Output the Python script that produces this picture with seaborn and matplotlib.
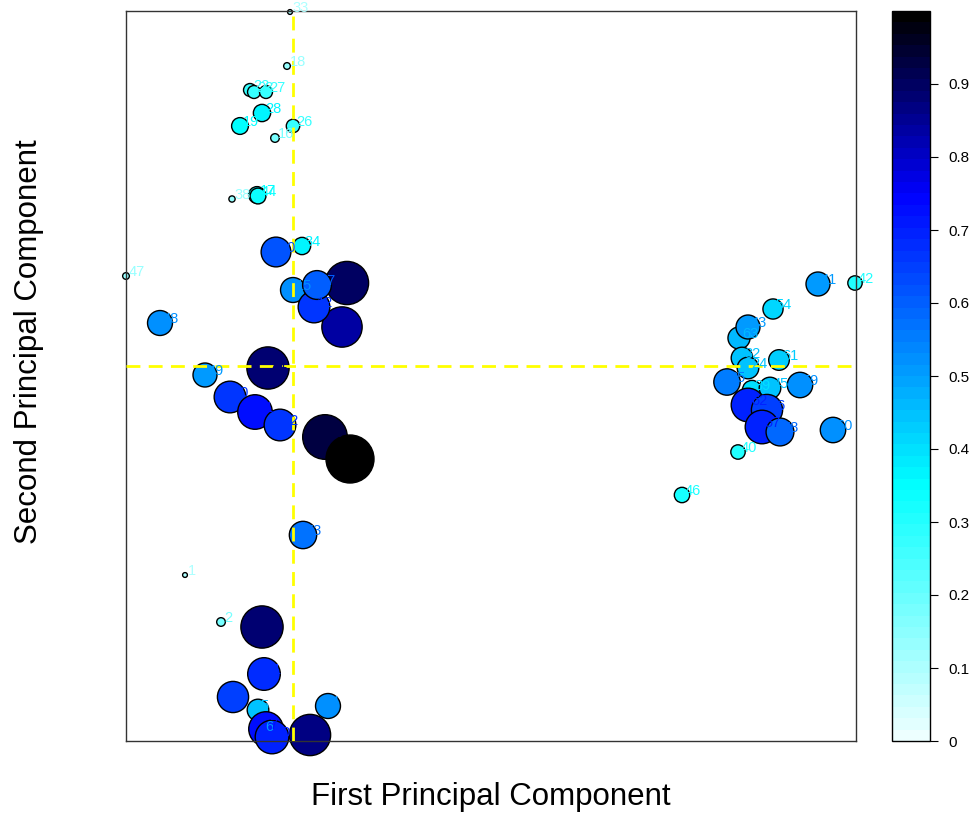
import numpy as np
import pandas as pd
import matplotlib
matplotlib.use("Agg")
import matplotlib.pyplot as plt
from matplotlib.colors import LinearSegmentedColormap, Normalize
from matplotlib.cm import ScalarMappable
import seaborn as sns

# ---- data ----
labels = ["1", "2", "3", "4", "5", "6", "7", "14", "11", "10", "13",
          "47", "48", "49", "50", "51", "52", "53",
          "21", "30", "31", "36", "29", "20", "34", "15", "12", "37",
          "33", "18", "22", "23", "27", "28", "19", "26", "16", "38", "17", "44",
          "41", "42", "54", "63", "43", "32", "24", "61", "35", "59", "39", "45",
          "62", "56", "57", "58", "60", "40", "46"]
pc1 = [59, 95, 107, 202, 132, 136, 140, 136, 138, 146, 184,
       0, 34, 79, 104, 129, 154, 177,
       142, 199, 224, 221, 216, 150, 176, 167, 188, 191,
       164, 161, 124, 128, 140, 136, 114, 167, 149, 106, 131, 132,
       692, 729, 647, 613, 622, 616, 622, 653, 601, 674, 626, 644,
       622, 641, 636, 654, 707, 612, 556]
pc2 = [166, 119, 44, 35, 31, 10, 12, 114, 67, 4, 6,
       465, 418, 366, 344, 329, 316, 206,
       373, 304, 282, 458, 414, 489, 495, 451, 434, 456,
       729, 675, 651, 649, 649, 628, 615, 615, 603, 542, 546, 545,
       457, 458, 432, 403, 414, 383, 373, 381, 359, 356, 351, 353,
       336, 331, 314, 309, 311, 289, 246]
score = [0.10, 0.18, 0.65, 0.52, 0.45, 0.50, 0.72, 0.88, 0.68, 0.70, 0.86,
         0.14, 0.52, 0.50, 0.66, 0.72, 0.66, 0.57,
         0.88, 0.93, 1.00, 0.90, 0.84, 0.62, 0.36, 0.52, 0.66, 0.60,
         0.10, 0.14, 0.27, 0.27, 0.27, 0.36, 0.35, 0.28, 0.18, 0.13, 0.35, 0.33,
         0.50, 0.30, 0.42, 0.46, 0.50, 0.45, 0.45, 0.43, 0.55, 0.53, 0.40, 0.45,
         0.70, 0.65, 0.70, 0.58, 0.53, 0.30, 0.32]
cross_x = 167
cross_y = 375
cbar_ticks = [0, 0.1, 0.2, 0.3, 0.4, 0.5, 0.6, 0.7, 0.8, 0.9]
cbar_ticklabels = ["0", "0.1", "0.2", "0.3", "0.4", "0.5", "0.6", "0.7", "0.8", "0.9"]

df = pd.DataFrame({"label": labels, "pc1": pc1, "pc2": pc2, "score": score})
df["area"] = df["score"] ** 2

sns.set_style("white")
plt.rcParams["font.family"] = ["Liberation Sans", "DejaVu Sans"]

cmap = LinearSegmentedColormap.from_list(
    "cyanblue",
    [(0.0, (0.93, 1.0, 1.0)), (0.35, (0.0, 1.0, 1.0)),
     (0.75, (0.0, 0.0, 1.0)), (1.0, (0.0, 0.0, 0.0))], N=64)
norm = Normalize(0, 1)

fig = plt.figure(figsize=(9.76, 8.13), dpi=100)
ax = fig.add_axes([126 / 976, 72 / 813, 730 / 976, 730 / 813])
cax = fig.add_axes([892 / 976, 72 / 813, 38 / 976, 730 / 813])

sns.scatterplot(data=df, x="pc1", y="pc2", hue="score", size="area",
                palette=cmap, hue_norm=norm, sizes=(0, 1194), size_norm=(0, 1),
                edgecolor="black", linewidth=1.0, legend=False, ax=ax,
                clip_on=False, zorder=2)

ax.set_xlim(0, 730)
ax.set_ylim(0, 730)
ax.set_xticks([])
ax.set_yticks([])
for sp in ax.spines.values():
    sp.set_color("#333333")
    sp.set_linewidth(1.0)

ax.axvline(cross_x, color="#ffff00", lw=2.0, ls=(0, (5, 3)), zorder=3)
ax.axhline(cross_y, color="#ffff00", lw=2.0, ls=(0, (5, 3)), zorder=3)

for lbl, x, y, s in zip(labels, pc1, pc2, score):
    ax.annotate(lbl, (x, y), xytext=(2, 3), textcoords="offset points",
                color=cmap(norm(s)), fontsize=10.5, ha="left", va="center",
                annotation_clip=False, zorder=4)

ax.set_xlabel("First Principal Component", fontsize=22.5, color="black")
ax.set_ylabel("Second Principal Component", fontsize=22.5, color="black")
ax.xaxis.set_label_coords(0.5, -0.056)
ax.yaxis.set_label_coords(-0.113, 0.547)

cb = fig.colorbar(ScalarMappable(norm=norm, cmap=cmap), cax=cax)
cb.set_ticks(cbar_ticks)
cb.set_ticklabels(cbar_ticklabels)
cb.ax.tick_params(labelsize=11, length=5.5, width=0.8, pad=8, direction="out",
                  colors="black")
cb.outline.set_edgecolor("black")
cb.outline.set_linewidth(1.0)

fig.savefig("out.png", dpi=100)
